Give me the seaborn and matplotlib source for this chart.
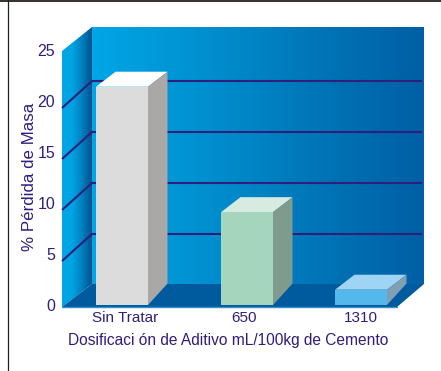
import matplotlib
matplotlib.use("Agg")
import matplotlib.pyplot as plt
from matplotlib.colors import LinearSegmentedColormap
from matplotlib.patches import Polygon, Rectangle
import numpy as np
import pandas as pd
import seaborn as sns

# Data
categories = ["Sin Tratar", "650", "1310"]
mass_loss = [21.4, 9.1, 1.5]
y_ticks = [0, 5, 10, 15, 20, 25]
grid_values = [5, 10, 15, 20]

# Layout: the x axis runs in pixels, the y axis in % mass loss
WIDTH, HEIGHT = 441, 371
BASE_Y, PX_PER_UNIT = 305, 10.2
bar_centres = [122, 247, 361]
label_centres = [125, 244, 361]
INK = "#2e1f7c"
front_colours = ["#dcdcdc", "#a6d5bd", "#55b8ec"]
top_colours = ["#ffffff", "#d8ebe0", "#9fd4f5"]
side_colours = ["#a9a8a6", "#7f9b8d", "#7e9fb4"]

sns.set_theme(style="white")
plt.rcParams["font.family"] = ["Liberation Sans", "DejaVu Sans"]

fig = plt.figure(figsize=(WIDTH / 100, HEIGHT / 100), dpi=100)
ax = fig.add_axes([62 / WIDTH, 1 - BASE_Y / HEIGHT,
                   (424 - 62) / WIDTH, 25 * PX_PER_UNIT / HEIGHT])
ax.patch.set_visible(False)


def to_value(py):
    """Convert a pixel row to the value axis."""
    return (BASE_Y - py) / PX_PER_UNIT


def pts(*pairs):
    return [(x, to_value(y)) for x, y in pairs]


def gradient_wall(corners, stops, xmin, xmax, z):
    cmap = LinearSegmentedColormap.from_list("wall", stops)
    ys = [p[1] for p in corners]
    im = ax.imshow(np.linspace(0, 1, 256)[None, :], cmap=cmap, aspect="auto",
                   extent=(xmin, xmax, min(ys), max(ys)), zorder=z)
    # The walls extend past the value range, so clip to the figure and the wall outline
    im.set_clip_box(fig.bbox)
    im.set_clip_path(Polygon(corners, transform=ax.transData))


# Room: back wall, left wall and floor
gradient_wall(pts((92, 27), (424, 27), (424, 284), (92, 284)),
              ["#00a6e6", "#0090d0", "#0076b8", "#005fa5"], 92, 424, 1)
gradient_wall(pts((62, 51), (92, 27), (92, 284), (62, 307)),
              ["#00a6e6", "#00a4e2", "#0080c0", "#00528f"], 62, 92, 1)
ax.add_patch(Polygon(pts((62, 307), (92, 284), (424, 284), (397, 307)),
                     facecolor="#005a9e", edgecolor="none", zorder=2, clip_on=False))
ax.plot(*zip(*pts((62, 307), (397, 307))), color="#3a8fc8", lw=1.0, zorder=2.5, clip_on=False)

# Gridlines bend at the corner between the two walls
for v in grid_values:
    back = BASE_Y - v * PX_PER_UNIT - 20
    front = BASE_Y - v * PX_PER_UNIT + 7
    ax.plot(*zip(*pts((62, front), (92, back), (422, back))),
            color=INK, lw=1.5, solid_joinstyle="miter", solid_capstyle="butt",
            zorder=3, clip_on=False)

# Front faces of the bars
frame = pd.DataFrame({"centre": bar_centres, "loss": mass_loss, "dose": categories})
sns.barplot(data=frame, x="centre", y="loss", hue="dose", ax=ax, native_scale=True,
            palette=dict(zip(categories, front_colours)), hue_order=categories,
            width=52 / 114, dodge=False, legend=False, saturation=1,
            linewidth=0, zorder=6)
bars = [p for p in ax.patches if isinstance(p, Rectangle)]

# Top and side faces, extruded from each front face
DX, DY = 19.5, 15 / PX_PER_UNIT
for bar, top, side in zip(bars, top_colours, side_colours):
    x0, x1 = bar.get_x(), bar.get_x() + bar.get_width()
    h = bar.get_height()
    ax.add_patch(Polygon([(x0, h), (x0 + DX, h + DY), (x1 + DX, h + DY), (x1, h)],
                         facecolor=top, edgecolor="none", zorder=5, clip_on=False))
    ax.add_patch(Polygon([(x1, 0), (x1 + DX, 2.1), (x1 + DX, h + DY), (x1, h)],
                         facecolor=side, edgecolor="none", zorder=5, clip_on=False))
    bar.set_clip_on(False)

# Axes
ax.set_xlim(62, 424)
ax.set_ylim(0, 25)
ax.set_xticks(label_centres, categories)
ax.set_yticks(y_ticks)
ax.tick_params(axis="both", length=0, labelcolor=INK)
ax.tick_params(axis="x", pad=4, labelsize=11)
ax.tick_params(axis="y", pad=5, labelsize=11.5)
sns.despine(ax=ax, left=True, bottom=True, right=True, top=True)
ax.set_xlabel("")
ax.set_ylabel("")

fig.text(228 / WIDTH, 1 - 340.5 / HEIGHT, "Dosificaci ón de Aditivo mL/100kg de Cemento",
         ha="center", va="center", color=INK, fontsize=11.2)
fig.text(30 / WIDTH, 1 - 177 / HEIGHT, "% Pérdida de Masa", rotation=90,
         ha="center", va="center", color=INK, fontsize=12.2)

# Page frame along the top and left edges
fig.add_artist(plt.Line2D([7.5 / WIDTH, 7.5 / WIDTH], [0, 1], color="#222018", lw=0.9))
fig.add_artist(plt.Line2D([0, 1], [1 - 0.8 / HEIGHT, 1 - 0.8 / HEIGHT], color="#222018", lw=1.3))

fig.savefig("out.png", dpi=100, facecolor="white")
